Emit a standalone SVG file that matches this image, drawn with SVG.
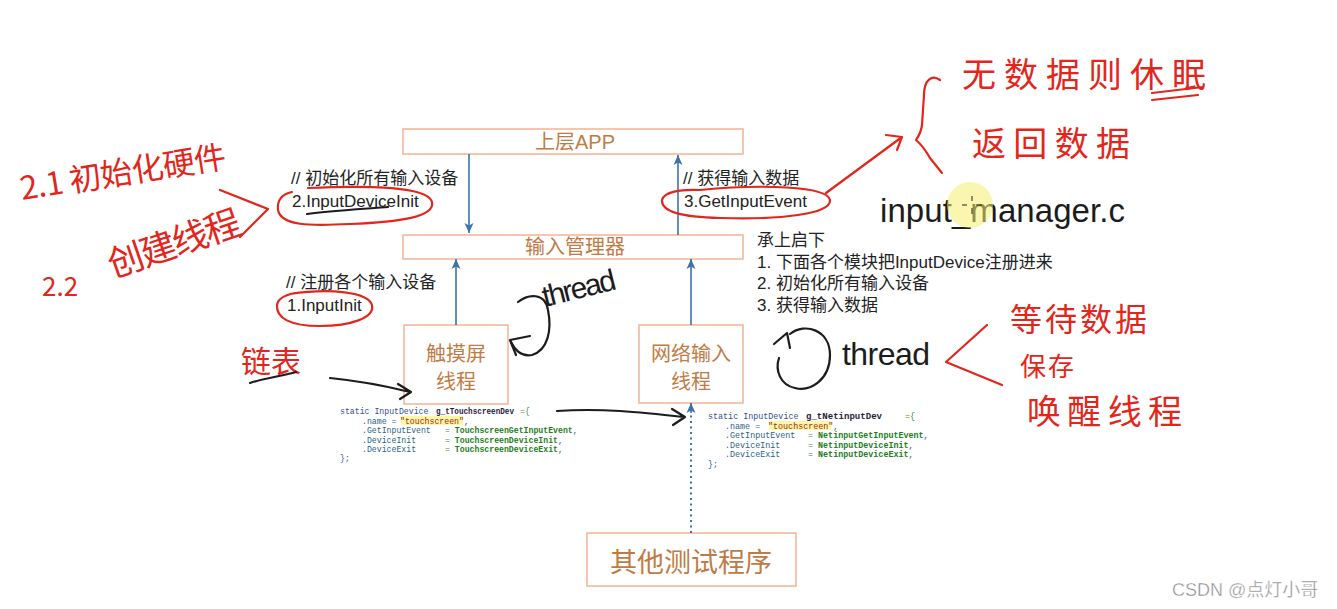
<svg xmlns="http://www.w3.org/2000/svg" width="1337" height="609" viewBox="0 0 1337 609">
<defs>
<style>
.box{fill:#fff;stroke:#f4b79b;stroke-width:1.6}
.bt{font-family:"Liberation Sans","Noto Sans CJK SC",sans-serif;fill:#bf7b45;text-anchor:middle}
.t{font-family:"Liberation Sans","Noto Sans CJK SC",sans-serif;fill:#222;font-size:17px}
.bl{stroke:#3a74a8;stroke-width:1.6;fill:none}
.dot{stroke:#3a74a8;stroke-width:2;fill:none;stroke-dasharray:2 3.5}
.rs{fill:none;stroke:#e2261c;stroke-width:2.2;stroke-linecap:round;stroke-linejoin:round}
.ks{fill:none;stroke:#1c1c1c;stroke-width:2.2;stroke-linecap:round;stroke-linejoin:round}
.rt{font-family:"Noto Sans CJK SC",sans-serif;fill:#e2261c}
.kt{font-family:"Liberation Sans",sans-serif;fill:#1c1c1c}
.c{font-family:"Liberation Mono",monospace;font-size:8.2px}
.c2{font-family:"Liberation Mono",monospace;font-size:8.4px}
.kw{fill:#34508a}
.nm{fill:#1e1e3c;font-weight:bold}
.mb{fill:#2d5f86}
.vl{fill:#1d7d1d;font-weight:bold}
.st{fill:#9a2a1a}
.pn{fill:#4b8b4b}
.hl{fill:#fff6a6}
</style>
<marker id="ab" markerUnits="userSpaceOnUse" markerWidth="10" markerHeight="10" viewBox="0 0 10 10" refX="10" refY="5" orient="auto"><path d="M0,0.5 L10,5 L0,9.5 L2.5,5 z" fill="#3a74a8"/></marker>
</defs>
<rect x="0" y="0" width="1337" height="609" fill="#ffffff"/>

<!-- nodes -->
<g id="app">
<rect class="box" x="403" y="129" width="340" height="25"/>
<text class="bt" x="575" y="149" font-size="20">上层APP</text>
</g>
<g id="mgr">
<rect class="box" x="403" y="235" width="340" height="24"/>
<text class="bt" x="575" y="254" font-size="20">输入管理器</text>
</g>
<g id="touch">
<rect class="box" x="404" y="325" width="104" height="79"/>
<text class="bt" x="456" y="361" font-size="20">触摸屏</text>
<text class="bt" x="456" y="389" font-size="20">线程</text>
</g>
<g id="net">
<rect class="box" x="639" y="325" width="104" height="78"/>
<text class="bt" x="691" y="361" font-size="20">网络输入</text>
<text class="bt" x="691" y="389" font-size="20">线程</text>
</g>
<g id="other">
<rect class="box" x="587" y="533" width="209" height="53"/>
<text class="bt" x="691" y="572" font-size="27">其他测试程序</text>
</g>

<!-- connectors -->
<g id="connectors">
<line class="bl" x1="469" y1="154" x2="469" y2="233" marker-end="url(#ab)"/>
<line class="bl" x1="678" y1="235" x2="678" y2="155" marker-end="url(#ab)"/>
<line class="bl" x1="456" y1="325" x2="456" y2="259" marker-end="url(#ab)"/>
<line class="bl" x1="691" y1="325" x2="691" y2="259" marker-end="url(#ab)"/>
<line class="dot" x1="691" y1="533" x2="691" y2="412"/>
<line class="bl" x1="691" y1="413" x2="691" y2="403" marker-end="url(#ab)"/>
</g>

<!-- labels -->
<g id="labels">
<text class="t" x="291" y="184">// 初始化所有输入设备</text>
<text class="t" x="292" y="207" font-size="16.5">2.InputDeviceInit</text>
<text class="t" x="683" y="184">// 获得输入数据</text>
<text class="t" x="684" y="207" font-size="16.5">3.GetInputEvent</text>
<text class="t" x="286" y="288">// 注册各个输入设备</text>
<text class="t" x="287" y="311" font-size="16.5">1.InputInit</text>
<text class="t" x="757" y="246" font-size="16.5">承上启下</text>
<text class="t" x="757" y="268" font-size="16.5">1. 下面各个模块把InputDevice注册进来</text>
<text class="t" x="757" y="289" font-size="16.5">2. 初始化所有输入设备</text>
<text class="t" x="757" y="311" font-size="16.5">3. 获得输入数据</text>
</g>

<!-- code blocks -->
<g id="code-touch">
<rect class="hl" x="401" y="416" width="62" height="9"/>
<text class="c" y="414"><tspan x="340" class="kw">static InputDevice</tspan><tspan x="436" class="nm" textLength="78" lengthAdjust="spacingAndGlyphs">g_tTouchscreenDev</tspan><tspan x="520" class="pn">={</tspan></text>
<text class="c" y="423.5"><tspan x="362" class="mb">.name = </tspan><tspan x="400" class="st">"touchscreen"</tspan><tspan class="mb">,</tspan></text>
<text class="c" y="433"><tspan x="362" class="mb">.GetInputEvent</tspan><tspan x="445" class="pn">= </tspan><tspan class="vl">TouchscreenGetInputEvent</tspan><tspan class="mb">,</tspan></text>
<text class="c" y="442.5"><tspan x="362" class="mb">.DeviceInit</tspan><tspan x="445" class="pn">= </tspan><tspan class="vl">TouchscreenDeviceInit</tspan><tspan class="mb">,</tspan></text>
<text class="c" y="452"><tspan x="362" class="mb">.DeviceExit</tspan><tspan x="445" class="pn">= </tspan><tspan class="vl">TouchscreenDeviceExit</tspan><tspan class="mb">,</tspan></text>
<text class="c" y="461"><tspan x="340" class="mb">};</tspan></text>
</g>
<g id="code-net">
<rect class="hl" x="769" y="421" width="62" height="9"/>
<text class="c2" y="419"><tspan x="708" class="kw">static InputDevice</tspan><tspan x="806" class="nm" textLength="76" lengthAdjust="spacingAndGlyphs">g_tNetinputDev</tspan><tspan x="905" class="pn">={</tspan></text>
<text class="c2" y="428.5"><tspan x="725" class="mb">.name = </tspan><tspan x="768" class="st">"touchscreen"</tspan><tspan class="mb">,</tspan></text>
<text class="c2" y="438"><tspan x="725" class="mb">.GetInputEvent</tspan><tspan x="808" class="pn">= </tspan><tspan class="vl">NetinputGetInputEvent</tspan><tspan class="mb">,</tspan></text>
<text class="c2" y="447.5"><tspan x="725" class="mb">.DeviceInit</tspan><tspan x="808" class="pn">= </tspan><tspan class="vl">NetinputDeviceInit</tspan><tspan class="mb">,</tspan></text>
<text class="c2" y="457"><tspan x="725" class="mb">.DeviceExit</tspan><tspan x="808" class="pn">= </tspan><tspan class="vl">NetinputDeviceExit</tspan><tspan class="mb">,</tspan></text>
<text class="c2" y="466.5"><tspan x="708" class="mb">};</tspan></text>
</g>

<!-- handwritten annotations -->
<g id="annotations">
<path class="rs" d="M308 188 C370 185,428 187,432 202 C435 217,400 222,350 224 C310 226,281 226,278 210 C277 200,282 194,292 192"/>
<path class="ks" d="M307 214 C330 211,360 209,388 207"/>
<path class="rs" d="M700 190 C760 184,828 186,830 200 C831 214,780 220,720 218 C682 217,661 212,662 200 C664 192,680 189,700 190"/>
<path class="rs" d="M290 294 C330 288,368 292,372 305 C375 318,350 326,320 326 C290 326,276 318,277 305 C278 298,285 295,295 293"/>
<path class="rs" d="M826 193 L902 137 M886 135 L902 137 L897 150"/>
<path class="rs" d="M940 80 C932 74,924 80,924 95 L922 125 C921 133,918 137,916 140 C922 145,926 151,930 158 L942 173"/>
<text class="rt" x="962" y="87" font-size="34" textLength="244">无数据则休眠</text>
<path class="rs" d="M1152 93 L1203 87 M1152 100 L1198 95"/>
<text class="rt" x="972" y="156" font-size="34" textLength="158">返回数据</text>
<text class="kt" x="880" y="222" font-size="33" textLength="245">input_manager.c</text>
<circle cx="970" cy="205" r="23" fill="#f6ee70" opacity="0.55"/>
<path d="M972 196 V201 M972 208 V214 M962 205 H967 M976 205 H982" stroke="#222" stroke-width="1"/>
<text class="rt" x="22" y="200" font-size="32" textLength="208" transform="rotate(-9 22 200)">2.1 初始化硬件</text>
<text class="rt" x="42" y="296" font-size="26">2.2</text>
<text class="rt" x="113" y="278" font-size="36" textLength="138" transform="rotate(-19 113 278)">创建线程</text>
<path class="rs" d="M220 190 L268 209 L240 237"/>
<text class="rt" x="241" y="372" font-size="30" textLength="60">链表</text>
<path class="ks" d="M250 383 C265 378,282 376,296 372"/>
<path class="ks" d="M330 378 C360 381,390 387,410 392 M398 384 L411 392 L400 399"/>
<path class="ks" d="M518 302 C528 294,545 292,548 310 C552 330,548 350,532 355 C522 357,515 350,511 342"/>
<path class="ks" d="M530 336 L510 340 L516 355"/>
<text class="kt" x="545" y="307" font-size="30" textLength="75" transform="rotate(-14 545 307)">thread</text>
<path class="ks" d="M557 411 C600 408,640 412,684 417 M672 409 L685 417 L673 425"/>
<path class="ks" d="M790 334 C805 322,830 330,830 355 C830 380,810 392,795 388 C780 385,775 370,779 358"/>
<path class="ks" d="M774 344 L787 333 L790 348"/>
<text class="kt" x="842" y="365" font-size="32" textLength="88">thread</text>
<path class="rs" d="M987 325 L946 362 L1002 385"/>
<text class="rt" x="1010" y="331" font-size="32" textLength="137">等待数据</text>
<text class="rt" x="1020" y="376" font-size="26" textLength="54">保存</text>
<text class="rt" x="1027" y="424" font-size="34" textLength="155">唤醒线程</text>
</g>

<text x="1172" y="596" font-family="Liberation Sans, Noto Sans CJK SC, sans-serif" font-size="18" fill="#8a8a8a" stroke="#ffffff" stroke-width="0.4">CSDN @点灯小哥</text>
</svg>
